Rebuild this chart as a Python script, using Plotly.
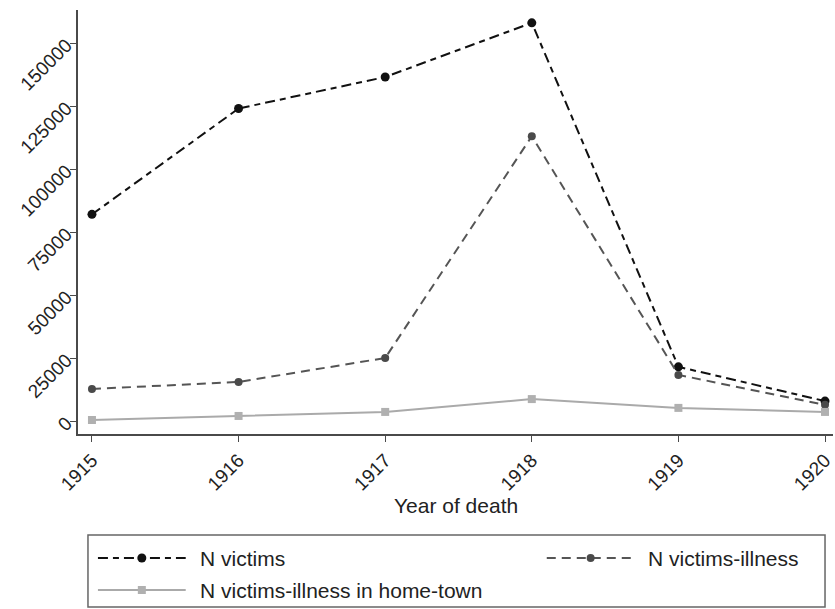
import plotly.graph_objects as go

years = [1915, 1916, 1917, 1918, 1919, 1920]
n_victims = [82000, 124000, 136500, 158000, 21500, 7900]
n_victims_illness = [12700, 15500, 25000, 113000, 18300, 6400]
n_illness_hometown = [400, 2000, 3600, 8700, 5200, 3600]

x_tick_labels = ["1915", "1916", "1917", "1918", "1919", "1920"]
y_tick_vals = [0, 25000, 50000, 75000, 100000, 125000, 150000]
y_tick_labels = ["0", "25000", "50000", "75000", "100000", "125000", "150000"]

series_names = ["N victims", "N victims-illness", "N victims-illness in home-town"]

W, H = 835, 609
L, R, T, B = 78, 0, 10, 175
pw, ph = W - L - R, H - T - B

def px_x(p):
    return (p - L) / pw

def px_y(p):
    return (H - B - p) / ph

FONT = "Liberation Sans, Arial, sans-serif"
AXIS_COL = "#4a4a4a"

styles = [
    dict(color="#111111", dash="10px,5px,6px,5px", symbol="circle", msize=9, mcolor="#111111"),
    dict(color="#555555", dash="9px,6px", symbol="circle", msize=8, mcolor="#4a4a4a"),
    dict(color="#aaaaaa", dash="solid", symbol="square", msize=8, mcolor="#b0b0b0"),
]
values = [n_victims, n_victims_illness, n_illness_hometown]

fig = go.Figure()
for name, vals, st in zip(series_names, values, styles):
    fig.add_trace(go.Scatter(
        x=years, y=vals, name=name, mode="lines+markers",
        line=dict(color=st["color"], width=2, dash=st["dash"]),
        marker=dict(symbol=st["symbol"], size=st["msize"], color=st["mcolor"]),
        showlegend=False,
    ))

# legend frame
fig.add_shape(type="rect", xref="paper", yref="paper",
              x0=px_x(88), x1=px_x(827), y0=px_y(607), y1=px_y(535),
              line=dict(color="#666666", width=1.5), fillcolor="rgba(0,0,0,0)")

# legend entries: (sample start x, row y)
legend_pos = [(98, 558), (548, 558), (98, 590)]
for name, st, (lx, ly) in zip(series_names, styles, legend_pos):
    fig.add_shape(type="line", xref="paper", yref="paper",
                  x0=px_x(lx), x1=px_x(lx + 88), y0=px_y(ly), y1=px_y(ly),
                  line=dict(color=st["color"], width=2, dash=st["dash"]))
    cx, cy = px_x(lx + 44), px_y(ly)
    r = st["msize"] / 2
    fig.add_shape(type="circle" if st["symbol"] == "circle" else "rect",
                  xref="paper", yref="paper",
                  xsizemode="pixel", ysizemode="pixel",
                  xanchor=cx, yanchor=cy,
                  x0=-r, x1=r, y0=-r, y1=r,
                  line=dict(width=0), fillcolor=st["mcolor"])
    fig.add_annotation(xref="paper", yref="paper", x=px_x(lx + 100), y=px_y(ly),
                       xanchor="left", yanchor="middle", showarrow=False,
                       text=name, font=dict(size=21, color="#222222"))

# x-axis title
fig.add_annotation(xref="paper", yref="paper", x=px_x(457), y=px_y(505),
                   xanchor="center", yanchor="middle", showarrow=False,
                   text="Year of death", font=dict(size=21, color="#222222"))

fig.update_layout(
    width=W, height=H,
    margin=dict(l=L, r=R, t=T, b=B),
    paper_bgcolor="white", plot_bgcolor="white",
    font=dict(family=FONT, size=19, color="#222222"),
    showlegend=False,
    xaxis=dict(
        range=[1915 - 14 / 147, 1915 + (W - 92) / 147],
        tickvals=years, ticktext=x_tick_labels, tickangle=-45,
        ticks="outside", ticklen=6, tickcolor=AXIS_COL,
        showline=True, linecolor=AXIS_COL, linewidth=1.5,
        showgrid=False, zeroline=False,
        tickfont=dict(size=19), ticklabeloverflow="allow",
    ),
    yaxis=dict(
        range=[-13 / 378 * 150000, 411 / 378 * 150000],
        tickvals=y_tick_vals, ticktext=y_tick_labels, tickangle=-45,
        ticks="outside", ticklen=6, tickcolor=AXIS_COL,
        showline=True, linecolor=AXIS_COL, linewidth=1.5,
        showgrid=False, zeroline=False,
        tickfont=dict(size=19), ticklabeloverflow="allow",
    ),
)

fig.write_html("out.html")
